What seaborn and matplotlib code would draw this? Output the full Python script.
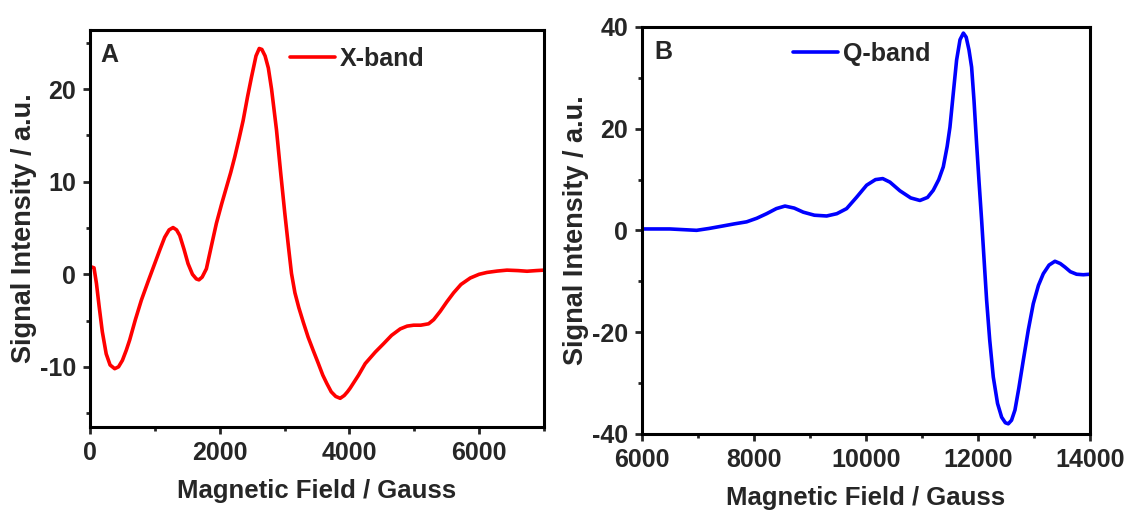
import pandas as pd
import matplotlib
matplotlib.use("Agg")
import matplotlib.pyplot as plt
import seaborn as sns
from matplotlib.ticker import MultipleLocator

# X-band spectrum
x_field = [0, 20, 62, 100, 140, 190, 250, 310, 381, 440, 500, 560, 612, 700, 792,
           900, 998, 1080, 1152, 1220, 1281, 1335, 1384, 1450, 1512, 1580, 1640,
           1680, 1730, 1795, 1870, 1949, 2030, 2104, 2170, 2233, 2300, 2361, 2430,
           2490, 2560, 2610, 2650, 2700, 2750, 2800, 2876, 2940, 3004, 3060, 3107,
           3160, 3220, 3290, 3364, 3446, 3519, 3590, 3652, 3720, 3790, 3858, 3920,
           3970, 4012, 4141, 4244, 4400, 4527, 4650, 4784, 4890, 4990, 5100, 5221,
           5300, 5401, 5500, 5607, 5720, 5864, 6000, 6121, 6280, 6430, 6600, 6739,
           6880, 7000]
x_signal = [0.9, 0.8, 0.7, -1.0, -3.4, -6.2, -8.6, -9.8, -10.2, -10.0, -9.3, -8.2,
            -7.1, -4.9, -2.8, -0.7, 1.15, 2.7, 4.0, 4.8, 5.05, 4.8, 4.2, 2.7, 1.15,
            0.0, -0.5, -0.6, -0.3, 0.6, 3.0, 5.5, 7.6, 9.4, 11.0, 12.7, 14.7, 16.6,
            19.2, 21.3, 23.6, 24.4, 24.3, 23.6, 22.3, 20.0, 15.6, 11.0, 6.6, 3.0, 0.1,
            -2.0, -3.6, -5.2, -6.8, -8.3, -9.6, -10.9, -11.8, -12.7, -13.2, -13.4,
            -13.1, -12.7, -12.3, -10.9, -9.65, -8.4, -7.5, -6.6, -5.9, -5.6, -5.5,
            -5.5, -5.35, -4.9, -4.0, -3.0, -2.0, -1.1, -0.4, 0.0, 0.2, 0.35, 0.45,
            0.4, 0.33, 0.4, 0.45]

# Q-band spectrum
q_field = [6000, 6500, 6976, 7200, 7452, 7650, 7869, 8050, 8226, 8400, 8554, 8720,
           8881, 9080, 9298, 9480, 9655, 9830, 10012, 10170, 10300, 10429, 10607,
           10800, 10964, 11100, 11202, 11300, 11381, 11450, 11500, 11560, 11619,
           11680, 11740, 11790, 11840, 11887, 11930, 11976, 12020, 12066, 12110,
           12155, 12210, 12274, 12350, 12423, 12490, 12542, 12600, 12661, 12730,
           12810, 12900, 12988, 13080, 13167, 13270, 13375, 13470, 13554, 13650,
           13762, 13880, 14000]
q_signal = [0.3, 0.3, 0.03, 0.4, 0.9, 1.3, 1.7, 2.4, 3.3, 4.3, 4.8, 4.4,
            3.6, 3.0, 2.85, 3.3, 4.3, 6.5, 8.9, 10.0, 10.2, 9.5, 7.8,
            6.4, 5.9, 6.5, 7.9, 10.0, 12.5, 16.5, 20.3, 27.0, 33.5,
            37.5, 38.8, 38.0, 35.5, 32.1, 25.5, 17.1, 9.5, 2.0, -5.8,
            -13.7, -21.5, -28.8, -34.0, -36.7, -37.8, -38.0, -37.3, -35.3, -31.0,
            -25.5, -19.5, -14.4, -10.8, -8.5, -6.8, -6.05, -6.5, -7.2, -8.1,
            -8.6, -8.7, -8.6]

df_x = pd.DataFrame({"field": x_field, "signal": x_signal, "band": "X-band"})
df_q = pd.DataFrame({"field": q_field, "signal": q_signal, "band": "Q-band"})

sns.set_style("ticks")
plt.rcParams["font.family"] = ["Liberation Sans", "DejaVu Sans"]
plt.rcParams["font.weight"] = "bold"
plt.rcParams["axes.labelweight"] = "bold"
plt.rcParams["axes.unicode_minus"] = False

fig = plt.figure(figsize=(11.29, 5.18), dpi=100)
ax1 = fig.add_axes([0.0797, 0.1757, 0.4021, 0.7664])
ax2 = fig.add_axes([0.5686, 0.1622, 0.3968, 0.7857])

sns.lineplot(data=df_x, x="field", y="signal", hue="band", palette=["#ff0000"],
             sort=False, estimator=None, linewidth=2.6, ax=ax1)
sns.lineplot(data=df_q, x="field", y="signal", hue="band", palette=["#0000ff"],
             sort=False, estimator=None, linewidth=2.6, ax=ax2)

ax1.set_xlim(0, 7000)
ax1.set_ylim(-16.5, 26.4)
ax1.xaxis.set_major_locator(MultipleLocator(2000))
ax1.xaxis.set_minor_locator(MultipleLocator(1000))
ax1.yaxis.set_major_locator(MultipleLocator(10))
ax1.yaxis.set_minor_locator(MultipleLocator(5))

ax2.set_xlim(6000, 14000)
ax2.set_ylim(-40, 40)
ax2.xaxis.set_major_locator(MultipleLocator(2000))
ax2.xaxis.set_minor_locator(MultipleLocator(1000))
ax2.yaxis.set_major_locator(MultipleLocator(20))
ax2.yaxis.set_minor_locator(MultipleLocator(10))

legend_pos = [(0.4405, 0.927), (0.337, 0.934)]
panel_pos = [(0.022, 0.936, "A"), (0.027, 0.939, "B")]

for ax, lp, pp in zip([ax1, ax2], legend_pos, panel_pos):
    for s in ax.spines.values():
        s.set_visible(True)
        s.set_linewidth(2.2)
        s.set_color("black")
    ax.tick_params(which="major", direction="out", length=5, width=2,
                   labelsize=18, pad=5)
    ax.tick_params(which="minor", direction="out", length=3, width=2)
    ax.set_xlabel("Magnetic Field / Gauss", fontsize=18.5, fontweight="bold", labelpad=10)
    ax.set_ylabel("Signal Intensity / a.u.", fontsize=19.5, fontweight="bold", labelpad=2)
    for lab in ax.get_xticklabels() + ax.get_yticklabels():
        lab.set_fontweight("bold")
    ax.legend(loc="center left", bbox_to_anchor=lp, frameon=False,
              handlelength=1.8, handletextpad=0.2, borderpad=0, borderaxespad=0,
              prop={"weight": "bold", "size": 18})
    ax.text(pp[0], pp[1], pp[2], transform=ax.transAxes, fontsize=18,
            fontweight="bold", va="center", ha="left")

fig.savefig("out.png", dpi=100)
